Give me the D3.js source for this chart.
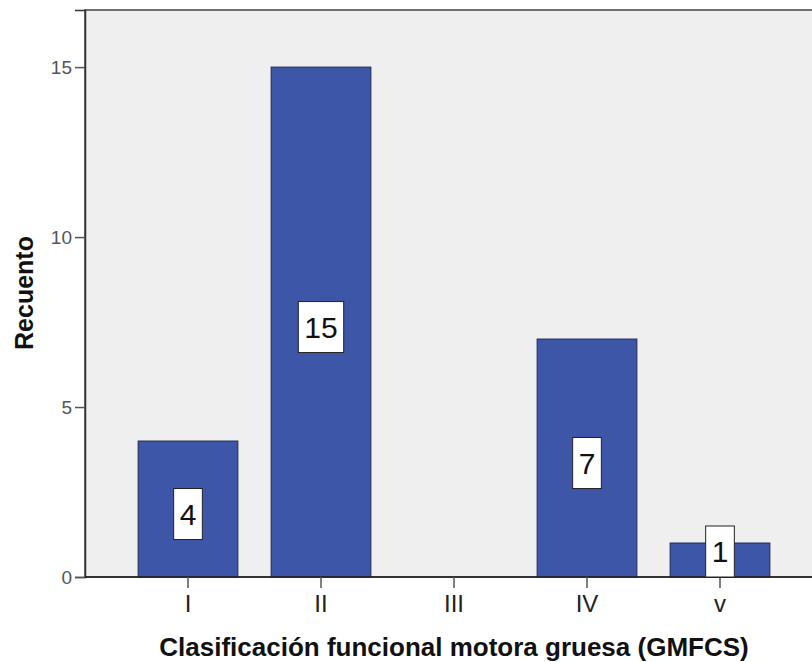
<!DOCTYPE html>
<html>
<head>
<meta charset="utf-8">
<script src="https://cdn.jsdelivr.net/npm/d3@7/dist/d3.min.js"></script>
<style>
  html, body { margin: 0; padding: 0; background: #ffffff; }
  svg { display: block; }
</style>
</head>
<body>
<svg id="chart" width="812" height="662"></svg>
<script>
// GMFCS levels and patient counts
const categories = ["I", "II", "III", "IV", "v"];
const counts = [4, 15, 0, 7, 1];
const yTicks = [0, 5, 10, 15];
const xTitle = "Clasificación funcional motora gruesa (GMFCS)";
const yTitle = "Recuento";

const svg = d3.select("#chart");
const W = 812, H = 662;
const plot = { left: 85, top: 10, right: 830, bottom: 577 };
const font = "Arial, 'Liberation Sans', sans-serif";

const y = d3.scaleLinear().domain([0, 16.68]).range([plot.bottom, plot.top]);
const x = d3.scaleBand().domain(categories).range([121.5, 786.5]).paddingInner(0.25).paddingOuter(0.125);

// plot background
svg.append("rect")
  .attr("x", plot.left).attr("y", plot.top)
  .attr("width", plot.right - plot.left).attr("height", plot.bottom - plot.top)
  .attr("fill", "#efefef")
  .attr("stroke", "#6e6e6e").attr("stroke-width", 2);

// bars
svg.append("g").selectAll("rect")
  .data(categories.map((c, i) => ({ c, v: counts[i] })).filter(d => d.v > 0))
  .join("rect")
  .attr("x", d => x(d.c))
  .attr("y", d => y(d.v))
  .attr("width", x.bandwidth())
  .attr("height", d => y(0) - y(d.v))
  .attr("fill", "#3e56a8")
  .attr("stroke", "#1e2a57")
  .attr("stroke-width", 1);

// y axis
const yAxis = svg.append("g")
  .attr("transform", `translate(${plot.left},0)`)
  .call(d3.axisLeft(y).tickValues(yTicks).tickSize(10).tickPadding(3).tickFormat(d3.format("d")));
yAxis.select(".domain").attr("stroke", "#333").attr("stroke-width", 1.5);
yAxis.selectAll(".tick line").attr("stroke", "#555").attr("stroke-width", 1.5);
yAxis.selectAll(".tick text")
  .attr("font-family", font)
  .attr("font-size", 19).attr("fill", "#555");

// x axis
const xAxis = svg.append("g")
  .attr("transform", `translate(0,${plot.bottom})`)
  .call(d3.axisBottom(x).tickSize(11).tickPadding(7).tickSizeOuter(0));
xAxis.select(".domain").attr("d", `M${plot.left},0H${W}`).attr("stroke", "#222").attr("stroke-width", 1.5);
xAxis.selectAll(".tick line").attr("stroke", "#555").attr("stroke-width", 1.5);
xAxis.selectAll(".tick text")
  .attr("font-family", font)
  .attr("font-size", 24).attr("fill", "#222");

// value labels in white boxes
const labelH = 51;
const labels = svg.append("g").selectAll("g")
  .data(categories.map((c, i) => ({ c, v: counts[i] })).filter(d => d.v > 0))
  .join("g")
  .attr("transform", d => {
    const mid = (y(d.v) + y(0)) / 2 + 5;
    const cy = Math.min(mid, y(0) - labelH / 2);
    return `translate(${x(d.c) + x.bandwidth() / 2},${cy})`;
  });
labels.append("text")
  .attr("text-anchor", "middle")
  .attr("dy", "0.36em")
  .attr("font-family", font)
  .attr("font-size", 30)
  .attr("fill", "#111")
  .text(d => d.v);
labels.each(function () {
  const g = d3.select(this);
  const bb = g.select("text").node().getBBox();
  const w = bb.width + 12;
  g.insert("rect", "text")
    .attr("x", -w / 2).attr("y", -labelH / 2)
    .attr("width", w).attr("height", labelH)
    .attr("fill", "#ffffff").attr("stroke", "#222").attr("stroke-width", 1);
});

// axis titles
svg.append("text")
  .attr("x", 454).attr("y", 656)
  .attr("text-anchor", "middle")
  .attr("font-family", font)
  .attr("font-weight", "bold").attr("font-size", 26).attr("fill", "#111")
  .text(xTitle);
svg.append("text")
  .attr("transform", "translate(33,293) rotate(-90)")
  .attr("text-anchor", "middle")
  .attr("font-family", font)
  .attr("font-weight", "bold").attr("font-size", 25).attr("fill", "#111")
  .text(yTitle);
</script>
</body>
</html>
